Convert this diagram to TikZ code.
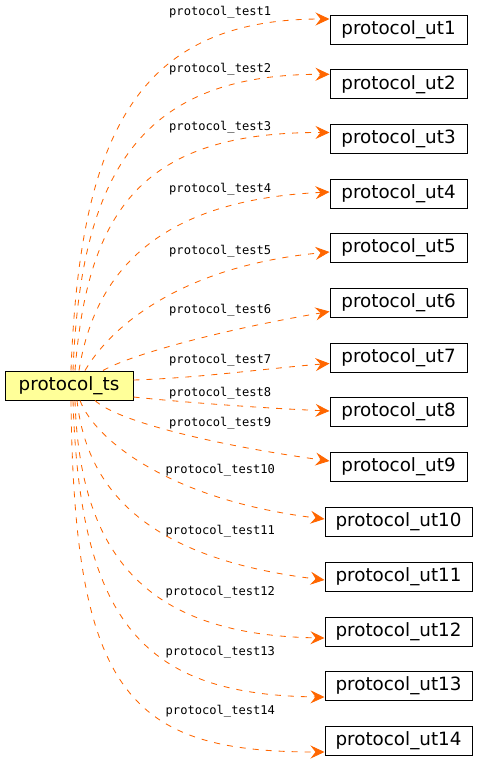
\documentclass[tikz,border=0pt]{standalone}
\usepackage{fontspec}
\setmainfont{DejaVu Sans}
\newfontfamily\lblfont{DejaVu Sans Mono}
\usetikzlibrary{arrows.meta}
\definecolor{edgeor}{HTML}{FF6600}
\definecolor{rootfill}{HTML}{FFFF99}
\tikzset{
  rootbox/.style={draw=black, fill=rootfill, line width=1pt, minimum width=128pt, minimum height=29pt, inner sep=0pt, font=\fontsize{18.3}{22}\selectfont},
  utbox/.style={draw=black, fill=white, line width=1pt, minimum width=137pt, minimum height=29pt, inner sep=0pt, font=\fontsize{18.3}{22}\selectfont},
  utwide/.style={utbox, minimum width=147pt},
  lbl/.style={anchor=west, inner sep=0pt, font=\lblfont\fontsize{12.1}{14}\selectfont},
  edge/.style={draw=edgeor, line width=0.85pt, dash pattern=on 6pt off 7pt, -{Stealth[length=14pt,width=13pt,inset=5pt]}},
}
\begin{document}
\begin{tikzpicture}[x=1pt,y=-1pt]
\useasboundingbox (0,0) rectangle (477,761);
\node[rootbox] (ts) at (69,385.5) {protocol\_ts};
\node[utbox] (u1) at (398.5,29.5) {protocol\_ut1};
\node[utbox] (u2) at (398.5,84.3) {protocol\_ut2};
\node[utbox] (u3) at (398.5,138.5) {protocol\_ut3};
\node[utbox] (u4) at (398.5,193.5) {protocol\_ut4};
\node[utbox] (u5) at (398.5,248) {protocol\_ut5};
\node[utbox] (u6) at (398.5,302.5) {protocol\_ut6};
\node[utbox] (u7) at (398.5,357.5) {protocol\_ut7};
\node[utbox] (u8) at (398.5,412) {protocol\_ut8};
\node[utbox] (u9) at (398.5,467) {protocol\_ut9};
\node[utwide] (u10) at (398.5,522) {protocol\_ut10};
\node[utwide] (u11) at (398.5,576.5) {protocol\_ut11};
\node[utwide] (u12) at (398.5,631.5) {protocol\_ut12};
\node[utwide] (u13) at (398.5,686) {protocol\_ut13};
\node[utwide] (u14) at (398.5,740.5) {protocol\_ut14};
\node[lbl] (l1) at (169,12.7) {protocol\_test1};
\node[lbl] (l2) at (169,69) {protocol\_test2};
\node[lbl] (l3) at (169,127.3) {protocol\_test3};
\node[lbl] (l4) at (169,189) {protocol\_test4};
\node[lbl] (l5) at (169,251.7) {protocol\_test5};
\node[lbl] (l6) at (169,310.7) {protocol\_test6};
\node[lbl] (l7) at (169,360.7) {protocol\_test7};
\node[lbl] (l8) at (169,393.3) {protocol\_test8};
\node[lbl] (l9) at (169,423.3) {protocol\_test9};
\node[lbl] (l10) at (165.5,470.7) {protocol\_test10};
\node[lbl] (l11) at (165.5,531) {protocol\_test11};
\node[lbl] (l12) at (165.5,592) {protocol\_test12};
\node[lbl] (l13) at (165.5,652.7) {protocol\_test13};
\node[lbl] (l14) at (165.5,711.7) {protocol\_test14};
\draw[edge] ([xshift=2pt]ts.north) .. controls (80,130) and (140,19) .. ([yshift=10.5pt]u1.west);
\draw[edge] ([xshift=4pt]ts.north) .. controls (81,170) and (142,74) .. ([yshift=10pt]u2.west);
\draw[edge] ([xshift=6pt]ts.north) .. controls (88,208) and (144,132) .. ([yshift=6pt]u3.west);
\draw[edge] ([xshift=10pt]ts.north) .. controls (95,270) and (160,200) .. ([yshift=1.5pt]u4.west);
\draw[edge] ([xshift=16pt]ts.north) .. controls (115,320) and (190,265) .. ([yshift=-4pt]u5.west);
\draw[edge] ([xshift=34pt]ts.north) .. controls (130,355) and (220,330) .. ([yshift=-9pt]u6.west);
\draw[edge] ([yshift=5.5pt]ts.east) .. controls (200,378) and (270,368) .. ([yshift=-6pt]u7.west);
\draw[edge] ([yshift=-11.5pt]ts.east) .. controls (180,402) and (260,408) .. ([yshift=1pt]u8.west);
\draw[edge] ([xshift=26pt]ts.south) .. controls (118,422) and (220,446) .. ([yshift=6pt]u9.west);
\draw[edge] ([xshift=11pt]ts.south) .. controls (95,440) and (170,500) .. ([yshift=3pt]u10.west);
\draw[edge] ([xshift=8pt]ts.south) .. controls (88,500) and (160,560) .. ([yshift=-3.5pt]u11.west);
\draw[edge] ([xshift=6pt]ts.south) .. controls (80,560) and (150,635) .. ([yshift=-6.5pt]u12.west);
\draw[edge] ([xshift=4pt]ts.south) .. controls (80,625) and (145,695) .. ([yshift=-11pt]u13.west);
\draw[edge] ([xshift=2pt]ts.south) .. controls (74,695) and (130,752) .. ([yshift=-11.5pt]u14.west);
\end{tikzpicture}
\end{document}
